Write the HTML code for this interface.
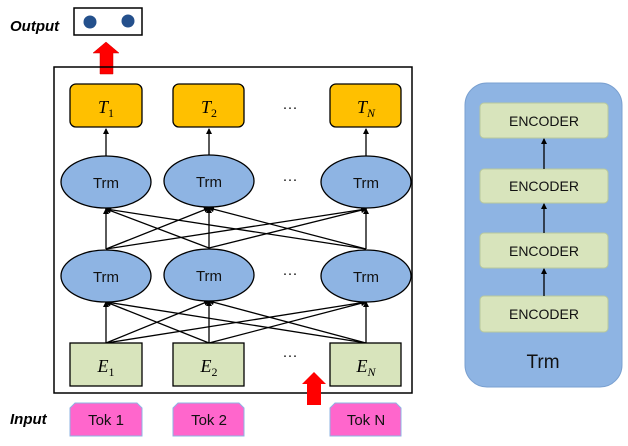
<!DOCTYPE html>
<html><head><style>body{margin:0;background:#fff}svg{display:block}</style></head><body>
<svg width="628" height="446" viewBox="0 0 628 446" xmlns="http://www.w3.org/2000/svg" font-family="Liberation Sans, sans-serif">
<defs><marker id="a" markerWidth="6" markerHeight="6" refX="5" refY="3" orient="auto" markerUnits="userSpaceOnUse"><path d="M0,0 L6,3 L0,6 z" fill="#000"/></marker></defs>
<text x="10" y="31" font-size="15" font-weight="bold" font-style="italic">Output</text>
<rect x="74" y="8" width="68" height="27" fill="#fff" stroke="#000" stroke-width="1.5"/>
<circle cx="90" cy="22" r="6.5" fill="#24508c"/><circle cx="128" cy="21" r="6.5" fill="#24508c"/>
<polygon points="106,42 119,53 113,53 113,74 100,74 100,53 93,53" fill="#f00" stroke="#c00" stroke-width="0.5"/>
<rect x="54" y="67" width="358" height="326" fill="none" stroke="#000" stroke-width="1.5"/>
<g stroke="#000" stroke-width="1.3" fill="none">
<line x1="106" y1="156" x2="106" y2="129" marker-end="url(#a)"/>
<line x1="209" y1="155" x2="209" y2="129" marker-end="url(#a)"/>
<line x1="366" y1="156" x2="366" y2="129" marker-end="url(#a)"/>
<g marker-end="url(#a)">
<line x1="106" y1="249" x2="106" y2="209"/><line x1="106" y1="249" x2="209" y2="208"/><line x1="106" y1="249" x2="366" y2="209"/>
<line x1="209" y1="248" x2="106" y2="209"/><line x1="209" y1="248" x2="209" y2="208"/><line x1="209" y1="248" x2="366" y2="209"/>
<line x1="366" y1="249" x2="106" y2="209"/><line x1="366" y1="249" x2="209" y2="208"/><line x1="366" y1="249" x2="366" y2="209"/>
<line x1="106" y1="343" x2="106" y2="302"/><line x1="106" y1="343" x2="209" y2="301"/><line x1="106" y1="343" x2="366" y2="302"/>
<line x1="209" y1="343" x2="106" y2="302"/><line x1="209" y1="343" x2="209" y2="301"/><line x1="209" y1="343" x2="366" y2="302"/>
<line x1="366" y1="343" x2="106" y2="302"/><line x1="366" y1="343" x2="209" y2="301"/><line x1="366" y1="343" x2="366" y2="302"/>
</g></g>
<g fill="#ffc000" stroke="#000" stroke-width="1.3">
<rect x="70" y="84" width="72" height="43" rx="6"/><rect x="173" y="84" width="71" height="43" rx="6"/><rect x="330" y="84" width="71" height="43" rx="6"/>
</g>
<g fill="#d8e4bc" stroke="#000" stroke-width="1.3">
<rect x="70" y="343" width="72" height="43"/><rect x="173" y="343" width="71" height="43"/><rect x="330" y="343" width="71" height="43"/>
</g>
<g font-family="Liberation Serif, serif" font-style="italic" font-size="18" text-anchor="middle">
<text x="106" y="113">T<tspan font-size="12" dy="4" font-style="normal">1</tspan></text>
<text x="209" y="113">T<tspan font-size="12" dy="4" font-style="normal">2</tspan></text>
<text x="366" y="113">T<tspan font-size="12" dy="4">N</tspan></text>
<text x="106" y="372">E<tspan font-size="12" dy="4" font-style="normal">1</tspan></text>
<text x="209" y="372">E<tspan font-size="12" dy="4" font-style="normal">2</tspan></text>
<text x="366" y="372">E<tspan font-size="12" dy="4">N</tspan></text>
</g>
<g fill="#8eb4e3" stroke="#000" stroke-width="1.3">
<ellipse cx="106" cy="182" rx="45" ry="26"/><ellipse cx="209" cy="181" rx="45" ry="26"/><ellipse cx="366" cy="182" rx="45" ry="26"/>
<ellipse cx="106" cy="276" rx="45" ry="26"/><ellipse cx="209" cy="275" rx="45" ry="26"/><ellipse cx="366" cy="276" rx="45" ry="26"/>
</g>
<g font-size="15" text-anchor="middle" fill="#111">
<text x="106" y="188">Trm</text><text x="209" y="187">Trm</text><text x="366" y="188">Trm</text>
<text x="106" y="282">Trm</text><text x="209" y="281">Trm</text><text x="366" y="282">Trm</text>
<text x="290" y="112">···</text><text x="290" y="184">···</text><text x="290" y="278">···</text><text x="290" y="360">···</text>
</g>
<polygon points="314,372 326,384 321,384 321,405 307,405 307,384 302,384" fill="#f00"/>
<text x="10" y="424" font-size="15" font-weight="bold" font-style="italic">Input</text>
<g fill="#ff66cc" stroke="#8eb4e3" stroke-width="1">
<path d="M75,403 H137 L142,408 V436 H70 V408 Z"/><path d="M178,403 H239 L244,408 V436 H173 V408 Z"/><path d="M335,403 H396 L401,408 V436 H330 V408 Z"/>
</g>
<g font-size="15" text-anchor="middle" fill="#111">
<text x="106" y="425">Tok 1</text><text x="209" y="425">Tok 2</text><text x="366" y="425">Tok N</text>
</g>
<rect x="465" y="83" width="157" height="304" rx="22" fill="#8eb4e3" stroke="#7aa0d0" stroke-width="1"/>
<g fill="#d8e4bc" stroke="#b8c89c" stroke-width="1">
<rect x="480" y="103" width="128" height="35" rx="4"/><rect x="480" y="169" width="128" height="34" rx="4"/>
<rect x="480" y="233" width="128" height="35" rx="4"/><rect x="480" y="296" width="128" height="36" rx="4"/>
</g>
<g stroke="#000" stroke-width="1.3" marker-end="url(#a)">
<line x1="544" y1="169" x2="544" y2="139"/><line x1="544" y1="233" x2="544" y2="204"/><line x1="544" y1="296" x2="544" y2="269"/>
</g>
<g font-size="14" text-anchor="middle" fill="#111">
<text x="544" y="126">ENCODER</text><text x="544" y="191">ENCODER</text><text x="544" y="256">ENCODER</text><text x="544" y="319">ENCODER</text>
</g>
<text x="543" y="368" font-size="19" text-anchor="middle" fill="#111">Trm</text>
</svg>
</body></html>
